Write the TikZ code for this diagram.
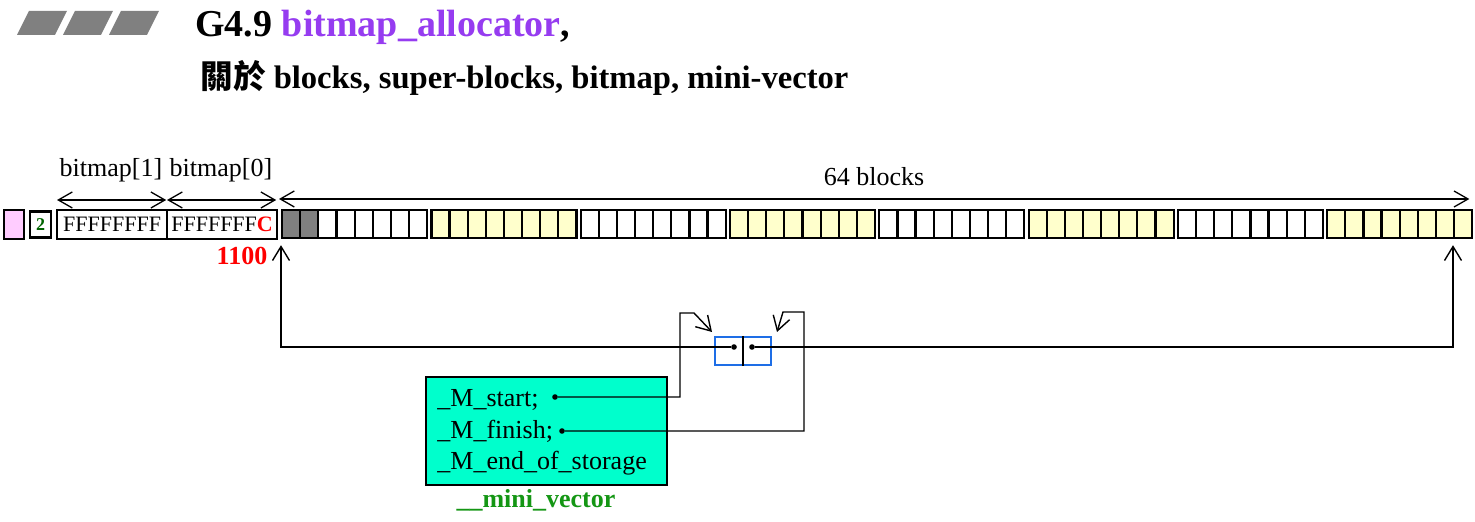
\documentclass[tikz,border=0pt]{standalone}
\usepackage{fontspec}
\setmainfont{Liberation Serif}
\newfontfamily\cjk{Noto Sans CJK TC}
\usetikzlibrary{arrows.meta}
\definecolor{titlepurple}{RGB}{150,60,240}
\definecolor{blockyellow}{RGB}{255,255,204}
\definecolor{blockgray}{RGB}{128,128,128}
\definecolor{bitpink}{RGB}{255,204,255}
\definecolor{vecteal}{RGB}{0,255,204}
\definecolor{vecgreen}{RGB}{20,150,20}
\definecolor{countgreen}{RGB}{0,100,0}
\definecolor{ptrblue}{RGB}{30,110,230}
\tikzstyle{block}=[draw, line width=1.1pt, minimum width=9.06pt, minimum height=14pt, inner sep=0pt, anchor=north west]
\tikzstyle{bitmapbox}=[draw, line width=1.1pt, minimum width=55pt, minimum height=14.5pt, inner sep=0pt, anchor=north west, font=\fontsize{11}{12}\selectfont]
\tikzstyle{spanarrow}=[line width=0.65pt, {Straight Barb[length=7pt,width=8pt]}-{Straight Barb[length=7pt,width=8pt]}]
\tikzstyle{ptr}=[line width=0.7pt, -{Straight Barb[length=7pt,width=8.5pt]}]
\tikzstyle{dot}=[circle, fill, inner sep=0pt, minimum size=2.8pt]
\tikzstyle{member}=[anchor=west, inner sep=0pt]

\begin{document}
\begin{tikzpicture}[x=0.5pt, y=-0.5pt, font=\fontsize{13}{15}\selectfont]
  \useasboundingbox (0,0) rectangle (1475,522);

  \foreach \i in {0,1,2}
    \fill[blockgray] ({17+46*\i},35) -- ++(38,0) -- ++(12,-24) -- ++(-38,0) -- cycle;
  \node[anchor=base west, inner sep=0pt, font=\fontsize{19}{21}\selectfont\bfseries] (title) at (195,37)
    {G4.9 \textcolor{titlepurple}{bitmap\_allocator},};
  \node[anchor=base west, inner sep=0pt, font=\fontsize{16.3}{18}\selectfont\bfseries] (subtitle) at (200,89)
    {{\cjk 關於} blocks, super-blocks, bitmap, mini-vector};

  \node[draw, line width=1.1pt, fill=bitpink, minimum width=10pt, minimum height=14.5pt, anchor=north west] (head) at (3,209) {};
  \node[draw, line width=1.1pt, minimum width=10.5pt, minimum height=13pt, inner sep=0pt, anchor=north west,
        font=\fontsize{9}{9}\selectfont\bfseries, text=countgreen] (count) at (29,210.5) {2};
  \node[bitmapbox] (bm1) at (56,209) {FFFFFFFF};
  \node[bitmapbox] (bm0) at (166,209) {FFFFFFF\textcolor{red}{\textbf{C}}};

  \foreach \g/\col in {0/white,1/blockyellow,2/white,3/blockyellow,4/white,5/blockyellow,6/white,7/blockyellow}
    \foreach \c in {0,...,7}
      \node[block, fill=\col] (b-\g-\c) at ({281+149.3*\g+18.125*\c},209) {};
  \node[block, fill=blockgray] (used-0) at (b-0-0.north west) {};
  \node[block, fill=blockgray] (used-1) at (b-0-1.north west) {};

  \node (bm1label) at (111,170) {bitmap[1]};
  \node (bm0label) at (221,170) {bitmap[0]};
  \node (blocklabel) at (874,177) {64 blocks};
  \draw[spanarrow, shorten <=0.5pt, shorten >=1pt] ([yshift=4.5pt]bm1.north west) -- ([yshift=4.5pt]bm1.north east);
  \draw[spanarrow, shorten <=0.5pt, shorten >=1pt] ([yshift=4.5pt]bm0.north west) -- ([yshift=4.5pt]bm0.north east);
  \draw[spanarrow, shorten <=-1pt, shorten >=2pt] ([yshift=5pt]b-0-0.north west) -- ([yshift=5pt]b-7-7.north east);
  \node[text=red, font=\fontsize{13}{15}\selectfont\bfseries] (mask) at (242,256) {1100};

  \node[draw=ptrblue, line width=1.2pt, minimum width=28pt, minimum height=14pt] (ptr) at (743,351) {};
  \draw[line width=0.8pt] (ptr.north) -- (ptr.south);
  \node[dot] (startptr) at (734,347) {};
  \node[dot] (finishptr) at (752,347) {};
  \draw[ptr, shorten >=3pt] (startptr) -| (b-0-0.south west);
  \draw[ptr, shorten >=3pt] (finishptr) -| (b-7-7.south west);

  \node[draw, line width=1pt, fill=vecteal, minimum width=120.5pt, minimum height=54pt, anchor=north west] (vec) at (425,376) {};
  \node[member] (mstart) at (437,400) {\_M\_start;};
  \node[member] (mfinish) at (437,431) {\_M\_finish;};
  \node[member] (mend) at (437,463) {\_M\_end\_of\_storage};
  \node[text=vecgreen, font=\fontsize{13}{15}\selectfont\bfseries] (veclabel) at (536,500) {\_\_mini\_vector};
  \node[dot] (startdot) at (555,397) {};
  \node[dot] (finishdot) at (562,431) {};
  \coordinate (startbend) at (680,313);
  \coordinate (starttip) at (712,332);
  \coordinate (finishbend) at (804,312);
  \coordinate (finishtip) at (777,332);
  \draw[ptr] (startdot) -| (startbend) -- ++(14,0) -- (starttip);
  \draw[ptr] (finishdot) -| (finishbend) -- ++(-21,0) -- (finishtip);
\end{tikzpicture}
\end{document}
